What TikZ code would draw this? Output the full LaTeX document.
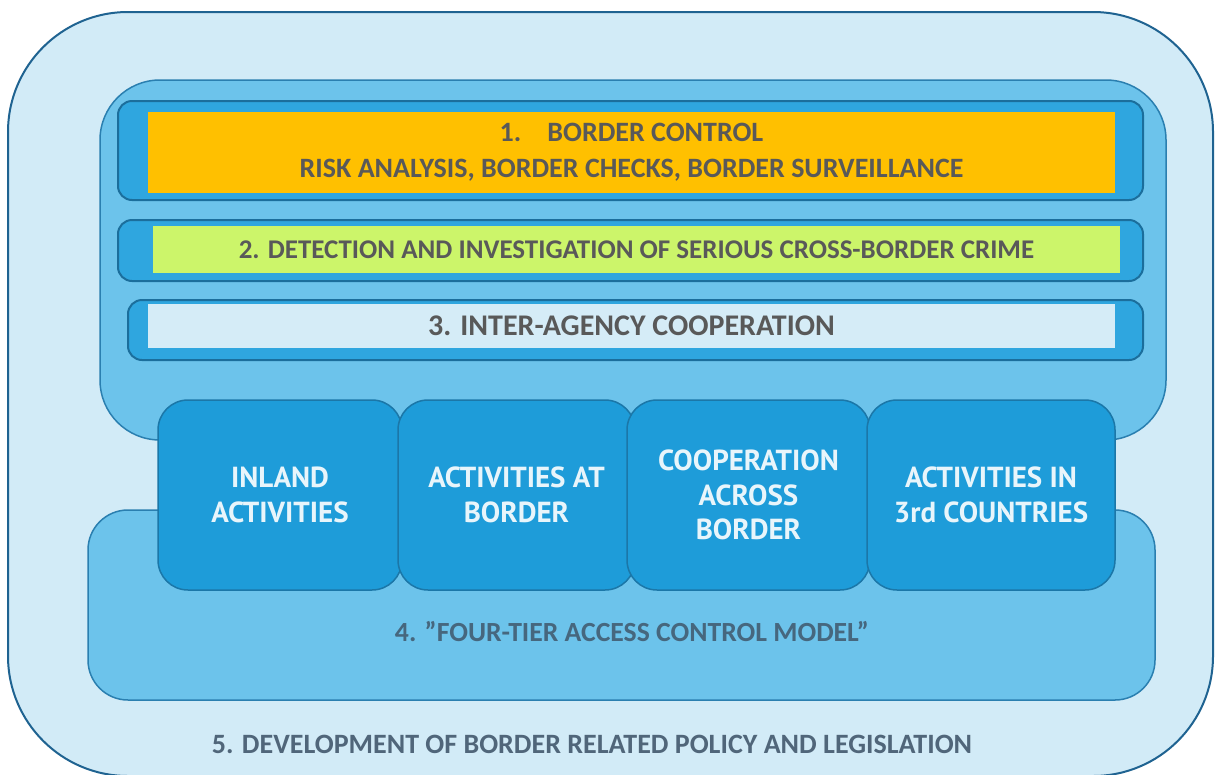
\documentclass[tikz,border=0pt]{standalone}
\usepackage{fontspec}
\setmainfont{Carlito}
\newfontfamily\boxfont{PT Sans}
\definecolor{outerfill}{HTML}{D2EBF7}
\definecolor{outerline}{HTML}{1F6391}
\definecolor{panelfill}{HTML}{6CC3EB}
\definecolor{panelline}{HTML}{2A7FB0}
\definecolor{barfill}{HTML}{2FA6DF}
\definecolor{barline}{HTML}{1B6E9C}
\definecolor{orangefill}{HTML}{FFC000}
\definecolor{greenfill}{HTML}{CCF56A}
\definecolor{palefill}{HTML}{D5ECF7}
\definecolor{boxfill}{HTML}{1E9CD9}
\definecolor{boxline}{HTML}{1B77A8}
\definecolor{bartext}{HTML}{595959}
\definecolor{fourtext}{HTML}{46677E}
\definecolor{fivetext}{HTML}{50667A}
\definecolor{boxtext}{HTML}{E8F5FB}
\tikzset{
  region/.style={draw, anchor=north west, inner sep=0pt, outer sep=0pt},
  barbox/.style={region, fill=barfill, draw=barline, line width=2pt, rounded corners=14pt},
  inset/.style={anchor=north west, inner sep=0pt, outer sep=0pt},
  tier/.style={region, fill=boxfill, draw=boxline, line width=1.5pt, rounded corners=30pt,
    minimum height=190pt, text=boxtext, align=center,
    font=\boxfont\bfseries\fontsize{29}{34.5}\selectfont},
  bartitle/.style={text=bartext, align=center}
}
\begin{document}
\begin{tikzpicture}[x=1pt,y=-1pt]
\useasboundingbox (0,0) rectangle (1215,774);
\fill[white] (0,0) rectangle (1215,774);
\begin{scope}
\clip (0,0) rectangle (1215,774);
% outer region 5
\node[region, fill=outerfill, draw=outerline, line width=2pt, rounded corners=120pt,
  minimum width=1205pt, minimum height=764pt] (outer) at (8,12) {};
% upper panel
\node[region, fill=panelfill, draw=panelline, line width=1.5pt, rounded corners=60pt,
  minimum width=1066pt, minimum height=360pt] (upper) at (100,80) {};
% lower panel
\node[region, fill=panelfill, draw=panelline, line width=1.5pt, rounded corners=40pt,
  minimum width=1067pt, minimum height=190pt] (lower) at (88,510) {};
% bar 1
\node[barbox, minimum width=1025pt, minimum height=99pt] (bar1) at (118,101) {};
\node[inset, fill=orangefill, minimum width=967pt, minimum height=81pt] (in1) at (148,112) {};
% bar 2
\node[barbox, minimum width=1025pt, minimum height=61pt] (bar2) at (118,220) {};
\node[inset, fill=greenfill, minimum width=967pt, minimum height=47pt] (in2) at (153,226) {};
% bar 3
\node[barbox, minimum width=1015pt, minimum height=60pt] (bar3) at (128,300) {};
\node[inset, fill=palefill, minimum width=967pt, minimum height=44pt] (in3) at (148,304) {};
% texts of bars
\node[bartitle, font=\bfseries\fontsize{28}{36}\selectfont] (t1) at (in1.center) {1.\hspace{26pt}BORDER CONTROL\\RISK ANALYSIS, BORDER CHECKS, BORDER SURVEILLANCE};
\node[bartitle, font=\bfseries\fontsize{27}{30}\selectfont] (t2) at (in2.center) {2. DETECTION AND INVESTIGATION OF SERIOUS CROSS-BORDER CRIME};
\node[bartitle, font=\bfseries\fontsize{30}{30}\selectfont] (t3) at (in3.center) {3. INTER-AGENCY COOPERATION};
% four tiers
\node[tier, minimum width=244pt] (b1) at (158,400) {INLAND\\ACTIVITIES};
\node[tier, minimum width=237pt] (b2) at (398,400) {ACTIVITIES AT\\BORDER};
\node[tier, minimum width=243pt] (b3) at (627,400) {COOPERATION\\ACROSS\\BORDER};
\node[tier, minimum width=248pt] (b4) at (867,400) {ACTIVITIES IN\\3rd COUNTRIES};
% labels 4 and 5
\node[text=fourtext, font=\bfseries\fontsize{27.7}{30}\selectfont] (t4) at (632,632) {4. ”FOUR-TIER ACCESS CONTROL MODEL”};
\node[text=fivetext, font=\bfseries\fontsize{28}{30}\selectfont] (t5) at (592,744) {5. DEVELOPMENT OF BORDER RELATED POLICY AND LEGISLATION};
\end{scope}
\end{tikzpicture}
\end{document}
